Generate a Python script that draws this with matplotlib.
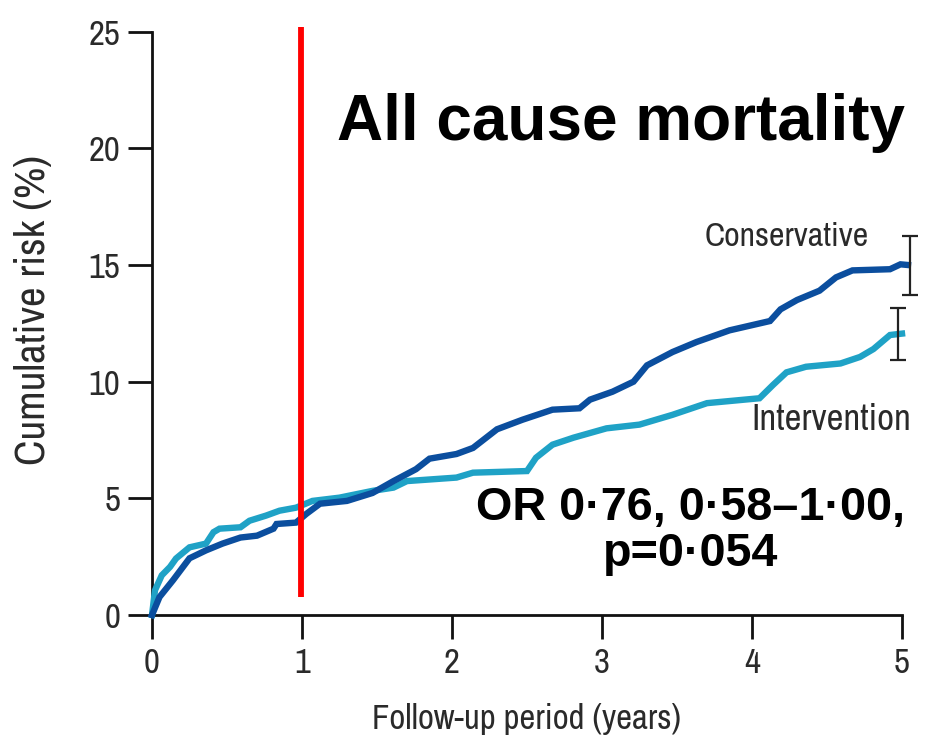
import matplotlib
matplotlib.use("Agg")
import matplotlib.pyplot as plt
from matplotlib import font_manager
from matplotlib.font_manager import FontProperties

# Kaplan-Meier style cumulative risk (%) against follow-up (years)
conservative_years = [0.00, 0.05, 0.14, 0.25, 0.36, 0.47, 0.59, 0.70, 0.81, 0.83, 0.96,
                      1.03, 1.12, 1.30, 1.47, 1.61, 1.76, 1.85, 2.03, 2.14, 2.30, 2.47,
                      2.67, 2.85, 2.92, 3.07, 3.21, 3.30, 3.47, 3.63, 3.85, 4.12, 4.19,
                      4.30, 4.45, 4.56, 4.67, 4.92, 4.99, 5.04]
conservative_risk = [0.0, 0.77, 1.49, 2.43, 2.77, 3.06, 3.32, 3.40, 3.70, 3.90, 3.96,
                     4.34, 4.77, 4.89, 5.23, 5.74, 6.25, 6.70, 6.90, 7.16, 7.96, 8.37,
                     8.80, 8.86, 9.23, 9.57, 10.0, 10.7, 11.27, 11.7, 12.2, 12.6, 13.1,
                     13.5, 13.9, 14.47, 14.77, 14.82, 15.03, 15.0]

intervention_years = [0.00, 0.02, 0.065, 0.12, 0.16, 0.25, 0.36, 0.41, 0.45, 0.59, 0.65,
                      0.76, 0.85, 0.96, 1.07, 1.25, 1.47, 1.61, 1.70, 2.03, 2.14, 2.50,
                      2.56, 2.67, 2.81, 3.03, 3.25, 3.47, 3.70, 4.05, 4.14, 4.23, 4.36,
                      4.59, 4.72, 4.81, 4.92, 5.00]
intervention_risk = [0.0, 1.06, 1.70, 2.06, 2.42, 2.90, 3.06, 3.55, 3.70, 3.76, 4.04,
                     4.26, 4.47, 4.60, 4.89, 5.03, 5.32, 5.46, 5.74, 5.89, 6.10, 6.17,
                     6.74, 7.30, 7.60, 8.00, 8.16, 8.58, 9.08, 9.29, 9.86, 10.4, 10.64,
                     10.78, 11.06, 11.40, 12.00, 12.06]

# 95% CI at five years: (x position, estimate, lower, upper)
conservative_ci = (5.05, 15.0, 13.7, 16.25)
intervention_ci = (4.97, 12.06, 10.95, 13.15)

x_ticks = [0, 1, 2, 3, 4, 5]
y_ticks = [0, 5, 10, 15, 20, 25]
marker_year = 0.99


def pick_narrow_font():
    """Find a condensed/narrow regular sans face among the installed fonts."""
    entries = font_manager.fontManager.ttflist
    regular = [f for f in entries if f.style == "normal" and f.weight in (400, "normal", "regular")]
    for f in regular:
        if "Narrow" in f.name:
            return FontProperties(fname=f.fname), True
    for fam in ("Noto Sans", "Open Sans", "Roboto", "DejaVu Sans", "Lato"):
        for f in regular:
            if f.name.startswith(fam) and (f.stretch in ("condensed", "semi-condensed")
                                           or "Condensed" in f.fname):
                return FontProperties(fname=f.fname), True
    return FontProperties(family="Liberation Sans"), False


narrow_fp, is_narrow = pick_narrow_font()
k = 1.0 if is_narrow else 0.8

DARK = "#0b4e9e"
LIGHT = "#1fa2c6"
TEXT = "#2a2a2a"


def narrow(size):
    fp = narrow_fp.copy()
    fp.set_size(size * k)
    return fp


fig = plt.figure(figsize=(9.34, 7.45), dpi=100)
ax = fig.add_axes([152 / 934, 1 - 615 / 745, 750 / 934, 583.3 / 745])

ax.plot(intervention_years, intervention_risk, color=LIGHT, lw=4.6,
        solid_joinstyle="miter", clip_on=False, zorder=3)
ax.plot(conservative_years, conservative_risk, color=DARK, lw=4.6,
        solid_joinstyle="miter", clip_on=False, zorder=4)

for xpos, est, lo, hi in (conservative_ci, intervention_ci):
    ax.errorbar([xpos], [est], yerr=[[est - lo], [hi - est]], fmt="none",
                ecolor="#222222", elinewidth=1.6, capsize=6, capthick=1.6,
                clip_on=False, zorder=5)

ax.plot([marker_year, marker_year], [0.77, 25.2], color="#ff0000", lw=4.2,
        solid_capstyle="butt", clip_on=False, zorder=6)

ax.set_xlim(0, 5)
ax.set_ylim(0, 25)
ax.set_xticks(x_ticks)
ax.set_yticks(y_ticks)
for s in ("top", "right"):
    ax.spines[s].set_visible(False)
for s in ("left", "bottom"):
    ax.spines[s].set_linewidth(2.0)
    ax.spines[s].set_color("#111111")
ax.tick_params(axis="both", direction="out", length=17, width=2.0,
               color="#111111", labelcolor=TEXT)
ax.tick_params(axis="y", pad=6)
ax.tick_params(axis="x", pad=6)
for lab in ax.get_xticklabels() + ax.get_yticklabels():
    lab.set_fontproperties(narrow(25))

ax.set_xlabel("Follow-up period (years)", fontproperties=narrow(25),
              color=TEXT, labelpad=17)
ax.set_ylabel("Cumulative risk (%)", fontproperties=narrow(31), color=TEXT)
ax.yaxis.set_label_coords(-0.133, 0.523)

ax.text(4.23, 16.2, "Conservative", fontproperties=narrow(24.5),
        color=TEXT, ha="center", va="center")
ax.text(4.53, 8.36, "Intervention", fontproperties=narrow(26.5),
        color=TEXT, ha="center", va="center")

ax.text(5.02, 21.1, "All cause mortality", fontsize=46, fontweight="bold",
        family="Liberation Sans", color="black", ha="right", va="center", clip_on=False)
ax.text(3.59, 3.6, "OR 0·76, 0·58–1·00,\np=0·054", fontsize=33.7, fontweight="bold",
        family="Liberation Sans", color="black", ha="center", va="center",
        linespacing=1.08, multialignment="center")

fig.savefig("out.png", dpi=100)
